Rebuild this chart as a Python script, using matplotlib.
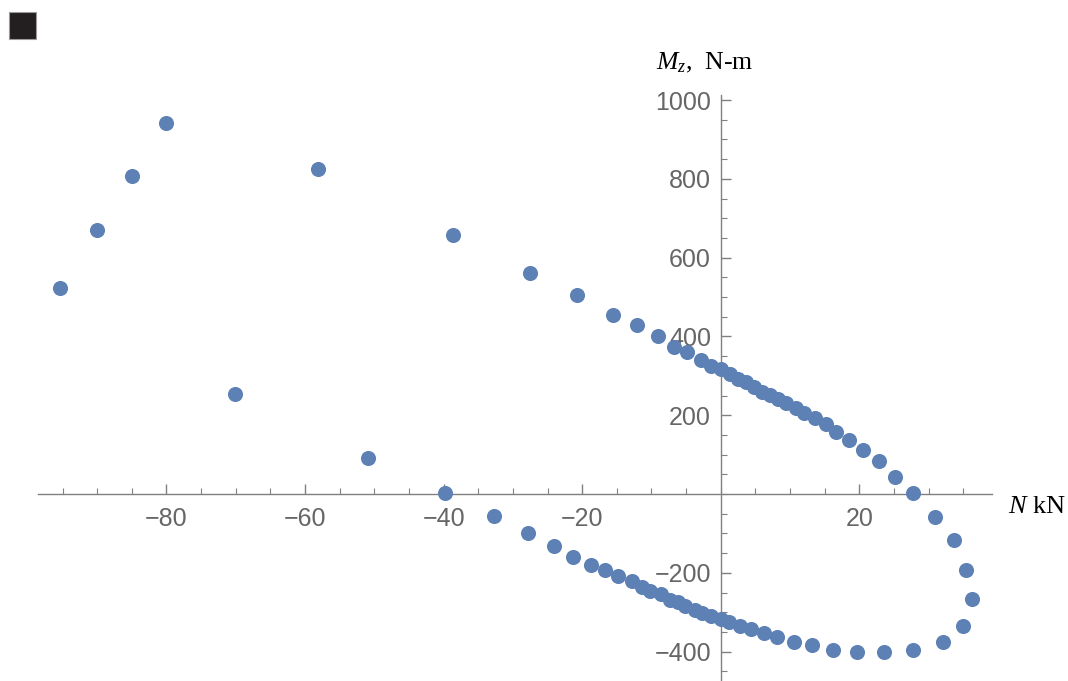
import matplotlib
matplotlib.use("Agg")
import matplotlib.pyplot as plt
from matplotlib.patches import Rectangle
from matplotlib.ticker import MultipleLocator

# N (kN), Mz (N-m), upper arm then lower arm
n_top = [-95.4, -90.0, -85.0, -80.1, -58.2, -38.7, -27.5, -20.7, -15.6, -12.1,
         -9.1, -6.7, -4.9, -2.9, -1.4, 0.1, 1.4, 2.5, 3.7, 4.8, 5.9, 7.1, 8.2,
         9.4, 10.9, 12.0, 13.6, 15.2, 16.7, 18.5, 20.5, 22.8, 25.1, 27.7]
m_top = [523, 671, 806, 941, 826, 658, 562, 504, 455, 429,
         400, 373, 360, 339, 326, 317, 305, 293, 285, 271, 259, 251, 240,
         231, 218, 205, 192, 178, 158, 138, 111, 84, 44, 3]

n_bot = [30.9, 33.6, 35.4, 36.3, 35.0, 32.0, 27.7, 23.5, 19.7, 16.2, 13.2,
         10.5, 8.1, 6.2, 4.3, 2.8, 1.25, 0.05, -1.35, -2.65, -3.7, -5.1, -6.2,
         -7.3, -8.6, -10.2, -11.4, -12.8, -14.8, -16.7, -18.7, -21.4, -24.0,
         -27.8, -32.8, -39.8, -50.9, -70.1]
m_bot = [-59, -118, -192, -267, -334, -375, -395, -402, -402, -395, -382,
         -375, -363, -354, -343, -335, -326, -316, -309, -301, -295, -283, -275,
         -268, -255, -247, -235, -222, -208, -194, -180, -160, -133,
         -98, -57, 2, 91, 253]

x_major = [-80, -60, -40, -20, 20]
y_major = [-400, -200, 200, 400, 600, 800, 1000]

plt.rcParams["mathtext.fontset"] = "custom"
plt.rcParams["mathtext.rm"] = "Liberation Serif"
plt.rcParams["mathtext.it"] = "Liberation Serif:italic"

W, H = 1068, 681
fig = plt.figure(figsize=(W / 100, H / 100), dpi=100)
ax = fig.add_axes([38.3 / W, 0.0, (991.7 - 38.3) / W, (681 - 95) / H])

dot = "#5e81b5"
ax.scatter(n_top + n_bot, m_top + m_bot, s=118, color=dot, linewidths=0,
           zorder=5, clip_on=False)

ax.set_xlim(-98.5, 39.1)
ax.set_ylim(-474.6, 1012.7)

axc = "#808080"
for s in ("top", "right"):
    ax.spines[s].set_visible(False)
for s in ("left", "bottom"):
    ax.spines[s].set_position(("data", 0))
    ax.spines[s].set_color(axc)
    ax.spines[s].set_linewidth(1.0)

ax.set_xticks(x_major)
ax.set_xticklabels([f"\u2212{abs(v)}" if v < 0 else str(v) for v in x_major])
ax.set_yticks(y_major)
ax.set_yticklabels([f"\u2212{abs(v)}" if v < 0 else str(v) for v in y_major])
ax.xaxis.set_minor_locator(MultipleLocator(5))
ax.yaxis.set_minor_locator(MultipleLocator(50))
ax.tick_params(which="major", direction="in", length=7.5, width=1.0,
               color=axc, labelcolor="#666666", labelsize=18)
ax.tick_params(which="minor", direction="in", length=4.3, width=0.8, color=axc)
ax.tick_params(axis="x", pad=9)
ax.tick_params(axis="y", pad=7)
for lab in ax.get_xticklabels() + ax.get_yticklabels():
    lab.set_family(["Liberation Sans", "DejaVu Sans"])

ax.patch.set_visible(False)

fig.text(656 / W, 1 - 69 / H, r"$M_z$,  N-m", family="Liberation Serif",
         fontsize=18.5, ha="left", va="baseline")
fig.text(1008 / W, 1 - 513 / H, r"$N$ kN", family="Liberation Serif",
         fontsize=19, ha="left", va="baseline")

# small black square in the top-left corner
fig.patches.append(Rectangle((9 / W, 1 - 38.5 / H), 27 / W, 27 / H,
                             transform=fig.transFigure, facecolor="#231f20",
                             edgecolor="#9a9a9a", linewidth=0.8))

fig.savefig("out.png", dpi=100)
